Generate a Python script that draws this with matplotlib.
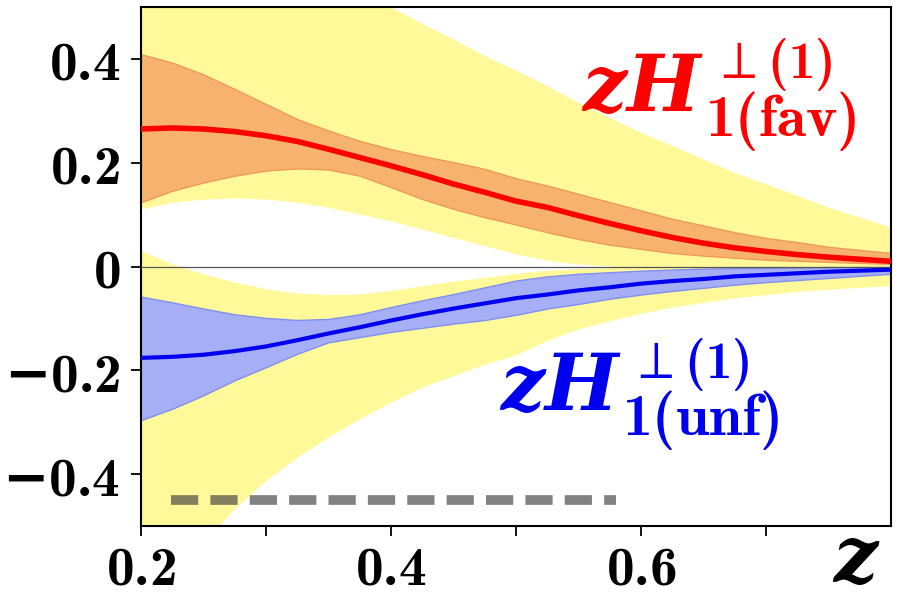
import matplotlib
matplotlib.use("Agg")
import matplotlib.pyplot as plt

plt.rcParams["mathtext.fontset"] = "custom"
plt.rcParams["mathtext.rm"] = "cmb10"
plt.rcParams["mathtext.bf"] = "cmb10"
plt.rcParams["mathtext.it"] = "DejaVu Serif:italic:bold"
plt.rcParams["mathtext.sf"] = "DejaVu Sans:bold"
plt.rcParams["mathtext.fallback"] = "cm"

YELLOW = "#FFF99A"
ORANGE = "#F7B36E"
ORANGE_EDGE = "#EE9A5A"
LBLUE = "#A6AEF5"
BLUE_EDGE = "#8090F0"

# values, z = 0.200 ... 0.800 in steps of 0.025
z = [0.200, 0.225, 0.250, 0.275, 0.300, 0.325, 0.350, 0.375, 0.400, 0.425, 0.450, 0.475, 0.500,
     0.525, 0.550, 0.575, 0.600, 0.625, 0.650, 0.675, 0.700, 0.725, 0.750, 0.775, 0.800]

fav_mid = [0.265, 0.267, 0.265, 0.260, 0.252, 0.241, 0.226, 0.210, 0.194, 0.177, 0.159, 0.143, 0.126,
           0.114, 0.098, 0.083, 0.069, 0.056, 0.045, 0.036, 0.029, 0.023, 0.018, 0.014, 0.010]
fav_hi = [0.409, 0.393, 0.370, 0.342, 0.313, 0.284, 0.262, 0.242, 0.226, 0.213, 0.201, 0.188, 0.170,
          0.156, 0.140, 0.124, 0.108, 0.092, 0.079, 0.066, 0.055, 0.047, 0.038, 0.032, 0.026]
fav_lo = [0.124, 0.146, 0.162, 0.175, 0.185, 0.189, 0.187, 0.175, 0.153, 0.130, 0.111, 0.095, 0.081,
          0.066, 0.053, 0.042, 0.034, 0.026, 0.021, 0.017, 0.013, 0.011, 0.009, 0.007, 0.005]
fav_env_hi = [0.74, 0.71, 0.68, 0.65, 0.62, 0.59, 0.56, 0.53, 0.50, 0.468, 0.438, 0.406, 0.378,
              0.348, 0.316, 0.287, 0.258, 0.233, 0.207, 0.181, 0.159, 0.137, 0.114, 0.095, 0.076]
fav_env_lo = [0.111, 0.124, 0.130, 0.132, 0.130, 0.124, 0.114, 0.101, 0.088, 0.072, 0.056, 0.040, 0.024,
              0.012, 0.005, 0.001, -0.002, -0.003, -0.004, -0.005, -0.006, -0.007, -0.008, -0.009, -0.010]

unf_mid = [-0.176, -0.174, -0.170, -0.163, -0.154, -0.142, -0.129, -0.117, -0.104, -0.092, -0.081, -0.071, -0.061,
           -0.054, -0.046, -0.040, -0.033, -0.028, -0.024, -0.019, -0.016, -0.013, -0.010, -0.008, -0.006]
unf_hi = [-0.058, -0.069, -0.081, -0.092, -0.099, -0.103, -0.101, -0.092, -0.078, -0.065, -0.053, -0.040, -0.027,
          -0.019, -0.014, -0.011, -0.008, -0.006, -0.004, -0.003, -0.003, -0.002, -0.001, -0.001, -0.001]
unf_lo = [-0.296, -0.274, -0.248, -0.219, -0.194, -0.168, -0.146, -0.136, -0.126, -0.118, -0.110, -0.103, -0.093,
          -0.081, -0.072, -0.062, -0.054, -0.047, -0.041, -0.035, -0.030, -0.026, -0.022, -0.018, -0.014]
unf_env_hi = [0.031, 0.005, -0.014, -0.030, -0.043, -0.051, -0.054, -0.053, -0.046, -0.037, -0.028, -0.021, -0.013,
              -0.007, -0.004, -0.002, 0.000, 0.001, 0.002, 0.002, 0.003, 0.003, 0.003, 0.004, 0.004]
unf_env_lo = [-0.67, -0.60, -0.53, -0.466, -0.412, -0.367, -0.328, -0.293, -0.261, -0.232, -0.210, -0.188, -0.170,
              -0.142, -0.120, -0.104, -0.090, -0.078, -0.069, -0.060, -0.054, -0.048, -0.044, -0.040, -0.037]

dash_x = [0.224, 0.58]
dash_y = [-0.45, -0.45]

xticks = [0.2, 0.3, 0.4, 0.5, 0.6, 0.7]
xticklabels = [r"$\mathbf{0.2}$", "", r"$\mathbf{0.4}$", "", r"$\mathbf{0.6}$", ""]
yticks = [-0.4, -0.2, 0, 0.2, 0.4]
yticklabels = [r"$\mathsf{-}\mathbf{0.4}$", r"$\mathsf{-}\mathbf{0.2}$", r"$\mathbf{0}$",
               r"$\mathbf{0.2}$", r"$\mathbf{0.4}$"]

fig = plt.figure(figsize=(9.01, 6.0), dpi=100)
ax = fig.add_axes([0.1565, 0.1233, 0.8325, 0.865])

ax.fill_between(z, fav_env_lo, fav_env_hi, color=YELLOW, lw=0, zorder=1)
ax.fill_between(z, unf_env_lo, unf_env_hi, color=YELLOW, lw=0, zorder=1)
ax.fill_between(z, fav_lo, fav_hi, facecolor=ORANGE, edgecolor=ORANGE_EDGE, lw=1.0, zorder=2)
ax.fill_between(z, unf_lo, unf_hi, facecolor=LBLUE, edgecolor=BLUE_EDGE, lw=1.0, zorder=2)
ax.axhline(0, color="#555555", lw=0.9, zorder=3)
ax.plot(z, fav_mid, color="red", lw=4.0, zorder=4)
ax.plot(z, unf_mid, color="#0000EE", lw=3.0, zorder=4)
ax.plot(dash_x, dash_y, color="#404040", lw=7, dashes=(2.8, 1.25), alpha=0.65, zorder=5,
        solid_capstyle="butt")


def fn_label(x, y, sub, color):
    # main symbol, then larger script parts placed by hand (offsets in points)
    ax.text(x, y, r"$zH$", color=color, fontsize=56, ha="left", va="baseline", zorder=6)
    ax.annotate(r"$\mathsf{\perp}\mathbf{(1)}$", (x, y), xytext=(92, 23.5), textcoords="offset points",
                color=color, fontsize=38, ha="left", va="baseline", zorder=6)
    ax.annotate(r"$\mathbf{1(" + sub + r")}$", (x, y), xytext=(89, -18), textcoords="offset points",
                color=color, fontsize=43, ha="left", va="baseline", zorder=6)


fn_label(0.552, 0.300, "fav", "red")
fn_label(0.486, -0.277, "unf", "#0000EE")

ax.set_xlim(0.2, 0.8)
ax.set_ylim(-0.5, 0.5)
ax.set_xticks(xticks)
ax.set_xticklabels(xticklabels, fontsize=40)
ax.set_yticks(yticks)
ax.set_yticklabels(yticklabels, fontsize=40)
ax.tick_params(direction="out", length=7, width=1.3)
ax.tick_params(axis="x", pad=5)
ax.tick_params(axis="y", pad=8)
for s in ax.spines.values():
    s.set_linewidth(1.5)

fig.text(0.950, 0.004, r"$z$", fontsize=56, ha="center", va="bottom")

fig.savefig("out.png", dpi=100)
